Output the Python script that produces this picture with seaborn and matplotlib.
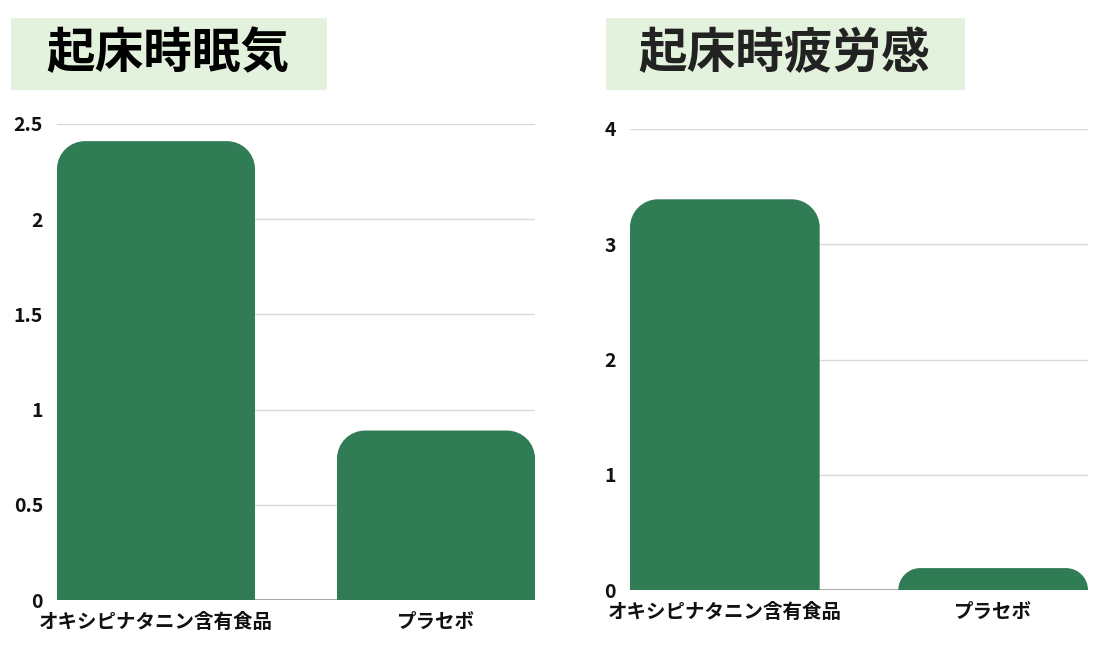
import numpy as np
import pandas as pd
import matplotlib
matplotlib.use("Agg")
import matplotlib.pyplot as plt
import seaborn as sns
from matplotlib.path import Path
from matplotlib.patches import PathPatch, Rectangle
from matplotlib.transforms import IdentityTransform

# ---- data ----
categories = ["オキシピナタニン含有食品", "プラセボ"]
sleepiness_values = [2.41, 0.89]
fatigue_values = [3.39, 0.19]
titles = ["起床時眠気", "起床時疲労感"]
sleepiness_ticks = [0, 0.5, 1, 1.5, 2, 2.5]
sleepiness_ticklabels = ["0", "0.5", "1", "1.5", "2", "2.5"]
fatigue_ticks = [0, 1, 2, 3, 4]
fatigue_ticklabels = ["0", "1", "2", "3", "4"]

sns.set_theme(style="white")
plt.rcParams['font.family'] = ['Noto Sans CJK JP', 'DejaVu Sans']

BAR = "#307c54"
W, H = 1100, 650
fig = plt.figure(figsize=(11, 6.5), dpi=100)

def px_axes(x0, x1, y_top, y_bot):
    return [x0 / W, 1 - y_bot / H, (x1 - x0) / W, (y_bot - y_top) / H]

ax1 = fig.add_axes(px_axes(57, 535, 124, 600))
ax2 = fig.add_axes(px_axes(630, 1088, 129, 590))

BW = 0.707

def draw(ax, vals, ymax, ticks, ticklabels):
    df = pd.DataFrame({"cat": categories, "val": vals})
    sns.barplot(data=df, x="cat", y="val", ax=ax, color=BAR, width=BW,
                saturation=1, zorder=3)
    ax.set_xlim(-BW / 2, 1 + BW / 2)
    ax.set_ylim(0, ymax)
    ax.set_yticks(ticks)
    ax.set_yticklabels(ticklabels, fontsize=14, fontweight="bold", color="#111111")
    ax.set_xticks(range(len(categories)))
    ax.set_xticklabels(categories, fontsize=14, fontweight="bold", color="#111111")
    ax.tick_params(axis="y", length=0, pad=10)
    ax.tick_params(axis="x", length=0, pad=9)
    ax.set_xlabel("")
    ax.set_ylabel("")
    for s in ax.spines.values():
        s.set_visible(False)
    ax.yaxis.grid(True, color="#d9d9d9", linewidth=1, zorder=0)
    ax.set_axisbelow(True)
    ax.axhline(0, color="#9a9a9a", linewidth=1.2, zorder=2)

draw(ax1, sleepiness_values, 2.5, sleepiness_ticks, sleepiness_ticklabels)
draw(ax2, fatigue_values, 4, fatigue_ticks, fatigue_ticklabels)

fig.canvas.draw()

def round_top(ax, r=28):
    for p in list(ax.patches):
        x, y = p.get_x(), p.get_y()
        w, h = p.get_width(), p.get_height()
        (x0, y0) = ax.transData.transform((x, y))
        (x1, y1) = ax.transData.transform((x + w, y + h))
        rr = min(r, (y1 - y0), (x1 - x0) / 2)
        k = 0.5523
        verts = [
            (x0, y0), (x0, y1 - rr),
            (x0, y1 - rr + k * rr), (x0 + rr - k * rr, y1), (x0 + rr, y1),
            (x1 - rr, y1),
            (x1 - rr + k * rr, y1), (x1, y1 - rr + k * rr), (x1, y1 - rr),
            (x1, y0), (x0, y0),
        ]
        codes = [Path.MOVETO, Path.LINETO,
                 Path.CURVE4, Path.CURVE4, Path.CURVE4,
                 Path.LINETO,
                 Path.CURVE4, Path.CURVE4, Path.CURVE4,
                 Path.LINETO, Path.CLOSEPOLY]
        pp = PathPatch(Path(verts, codes), facecolor=BAR, edgecolor="none",
                       transform=IdentityTransform(), zorder=3)
        p.set_visible(False)
        ax.add_artist(pp)

round_top(ax1)
round_top(ax2)

# title boxes
def title_box(x0, x1, y0, y1, text, color):
    fig.patches.append(Rectangle((x0 / W, 1 - y1 / H), (x1 - x0) / W, (y1 - y0) / H,
                                 transform=fig.transFigure, facecolor="#e3f2dd",
                                 edgecolor="none", zorder=0))
    fig.text(((x0 + x1) / 2 - 1) / W, 1 - ((y0 + y1) / 2) / H, text,
             ha="center", va="center", fontsize=35, fontweight="bold", color=color)

title_box(11, 327, 18, 90, titles[0], "#000000")
title_box(606, 965, 18, 90, titles[1], "#222222")

fig.savefig("out.png", dpi=100)
